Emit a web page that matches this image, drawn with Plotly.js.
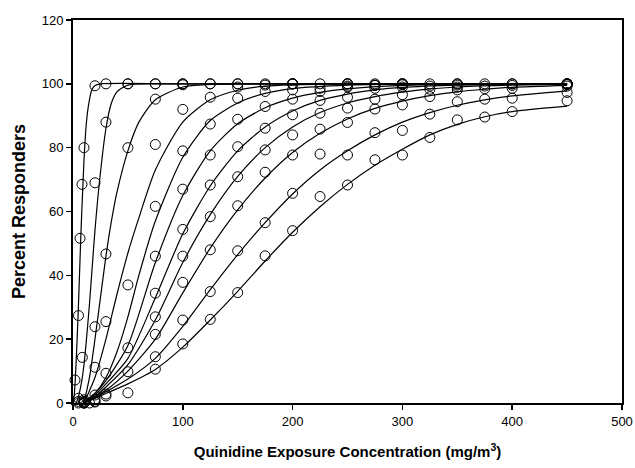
<!DOCTYPE html>
<html>
<head>
<meta charset="utf-8">
<script src="https://cdn.plot.ly/plotly-3.0.1.min.js"></script>
<style>html,body{margin:0;padding:0;background:#fff;}#chart{width:635px;height:468px;}</style>
</head>
<body>
<div id="chart"></div>
<script>
// ---- fitted curves ----
var curve1X = [0, 1, 2, 3, 4, 5, 6, 7, 8, 9, 10, 12, 14, 17, 20, 25, 100, 450];
var curve1Y = [0, 2, 7, 14, 22, 31, 41, 51, 60, 68, 76, 87, 93, 98, 99.5, 100, 100, 100];
var curve2X = [3, 5, 8, 10, 12, 15, 18, 20, 24, 30, 35, 40, 50, 75, 450];
var curve2Y = [0, 2, 7, 12, 19, 31, 45, 54, 69, 86, 94, 97.5, 99.6, 100, 100];
var curve3X = [10, 15, 20, 25, 30, 35, 40, 50, 60, 75, 100, 125, 150, 450];
var curve3Y = [0, 8, 20, 33, 46, 57, 66, 79, 88, 95, 99, 99.8, 100, 100];
var curve4X = [10, 20, 30, 40, 50, 60, 75, 100, 125, 150, 175, 200, 250, 450];
var curve4Y = [0, 8, 20, 34, 47, 58, 73, 88, 95, 98, 99.3, 99.7, 100, 100];
var curve5X = [10, 20, 30, 40, 50, 60, 75, 100, 125, 150, 175, 200, 250, 300, 450];
var curve5Y = [0, 3, 8, 16, 27, 40, 57, 77, 88.5, 94, 97, 98.5, 99.6, 99.9, 100];
var curve6X = [10, 20, 30, 50, 75, 100, 125, 150, 175, 200, 225, 250, 300, 350, 450];
var curve6Y = [0, 3, 7, 18, 44, 65, 79, 87.5, 92.5, 95.5, 97.3, 98.4, 99.5, 99.9, 100];
var curve7X = [10, 20, 30, 50, 75, 100, 125, 150, 175, 200, 225, 250, 275, 300, 350, 400, 450];
var curve7Y = [0, 2.5, 6, 14, 33, 53, 68, 79, 86.5, 91.5, 94.8, 96.8, 98.1, 98.9, 99.6, 99.9, 100];
var curve8X = [10, 20, 30, 50, 75, 100, 125, 150, 175, 200, 225, 250, 275, 300, 325, 350, 400, 450];
var curve8Y = [0, 2, 5, 12, 26, 44, 59, 71, 80, 86.5, 91, 94, 96, 97.4, 98.4, 99, 99.6, 99.8];
var curve9X = [10, 20, 30, 50, 75, 100, 125, 150, 175, 200, 225, 250, 275, 300, 325, 350, 375, 400, 450];
var curve9Y = [0, 2, 4, 10, 20, 34.5, 48.5, 60.5, 70.5, 78.5, 84.5, 89, 92.3, 94.6, 96.3, 97.5, 98.3, 98.9, 99.5];
var curve10X = [10, 20, 30, 50, 75, 100, 125, 150, 175, 200, 225, 250, 275, 300, 325, 350, 375, 400, 450];
var curve10Y = [0, 1.5, 3.5, 7.5, 14, 24, 35.5, 46.5, 56.5, 65.5, 73, 79, 84, 88, 91, 93.3, 95, 96.2, 97.8];
var curve11X = [10, 20, 30, 50, 75, 100, 125, 150, 175, 200, 225, 250, 275, 300, 325, 350, 375, 400, 450];
var curve11Y = [0, 1.5, 3, 6, 10.5, 17.5, 26, 35, 44.5, 53.5, 61.5, 68.5, 74.5, 79.5, 84, 87.3, 89.7, 91.3, 93];

// ---- observed responders (open circles) ----
var obs1X = [1.8, 5, 6.4, 8.2, 10, 20, 30, 50, 75, 100, 125, 150, 175, 200, 225, 250, 275, 300, 325, 350, 375, 400, 450];
var obs1Y = [7.2, 27.4, 51.6, 68.5, 80, 99.4, 100, 100, 100, 100, 100, 100, 100, 100, 100, 100, 100, 100, 100, 100, 100, 100, 100];
var obs2X = [5, 8.5, 20, 30, 50, 75, 100, 150, 200, 250, 300, 350, 400, 450];
var obs2Y = [1.5, 14.3, 69, 88, 100, 100, 100, 100, 100, 100, 100, 100, 100, 100];
var obs3X = [5, 10, 20, 30, 50, 75, 100, 125, 200, 300, 450];
var obs3Y = [0.5, 1, 23.9, 46.7, 80, 95.2, 99.7, 100, 100, 100, 100];
var obs4X = [5, 10, 20, 30, 50, 75, 100, 125, 150, 175, 200, 250, 450];
var obs4Y = [0, 0.5, 11.2, 25.5, 37, 81, 92, 95.8, 99, 99.6, 100, 100, 100];
var obs5X = [10, 20, 30, 50, 75, 100, 125, 150, 175, 200, 225, 250, 275, 450];
var obs5Y = [0.3, 2.5, 9.3, 17.3, 61.6, 79, 87.4, 95.5, 97.6, 98.1, 98.6, 99.3, 99.6, 100];
var obs6X = [10, 20, 30, 50, 75, 100, 125, 150, 175, 200, 225, 250, 275, 300, 450];
var obs6Y = [0, 1.2, 2.8, 9.8, 46, 67, 77.7, 88.9, 92.9, 95.2, 97.6, 99, 99.5, 99.7, 100];
var obs7X = [10, 20, 30, 50, 75, 100, 125, 150, 175, 200, 225, 250, 275, 300, 325, 350, 450];
var obs7Y = [0, 0.5, 2.2, 3.2, 34.4, 54.4, 68.3, 80.3, 86.1, 90.3, 94.8, 95.8, 98.6, 99, 99.3, 99.6, 99.8];
var obs8X = [10, 20, 75, 100, 125, 150, 175, 200, 225, 250, 275, 300, 325, 350, 375, 400, 450];
var obs8Y = [0, 0.3, 27, 46, 58.4, 70.9, 79.3, 84, 90.8, 92.4, 95.2, 96.6, 98.3, 99, 99.3, 99.5, 99.8];
var obs9X = [15, 75, 100, 125, 150, 175, 200, 225, 250, 275, 300, 325, 350, 375, 400, 450];
var obs9Y = [0, 21.5, 37.8, 48, 61.8, 72.3, 77.7, 85.8, 87.9, 92.1, 93.4, 96, 98.1, 98.5, 98.6, 99.3];
var obs10X = [75, 100, 125, 150, 175, 200, 225, 250, 275, 300, 325, 350, 375, 400, 450];
var obs10Y = [14.5, 26, 34.9, 47.7, 56.5, 65.7, 78, 77.7, 84.7, 85.4, 90.5, 94.4, 95.2, 95.5, 97.3];
var obs11X = [75, 100, 125, 150, 175, 200, 225, 250, 275, 300, 325, 350, 375, 400, 450];
var obs11Y = [10.6, 18.5, 26.2, 34.6, 46.1, 54, 64.7, 68.3, 76.2, 77.7, 83.2, 88.7, 89.6, 91.3, 94.7];

var xTicks = [0, 100, 200, 300, 400, 500];
var yTicks = [0, 20, 40, 60, 80, 100, 120];

var curves = [[curve1X, curve1Y],[curve2X, curve2Y],[curve3X, curve3Y],[curve4X, curve4Y],[curve5X, curve5Y],[curve6X, curve6Y],[curve7X, curve7Y],[curve8X, curve8Y],[curve9X, curve9Y],[curve10X, curve10Y],[curve11X, curve11Y]];
var obs = [[obs1X, obs1Y],[obs2X, obs2Y],[obs3X, obs3Y],[obs4X, obs4Y],[obs5X, obs5Y],[obs6X, obs6Y],[obs7X, obs7Y],[obs8X, obs8Y],[obs9X, obs9Y],[obs10X, obs10Y],[obs11X, obs11Y]];

var traces = [];
curves.forEach(function(c){
  traces.push({x: c[0], y: c[1], type: 'scatter', mode: 'lines', cliponaxis: false,
    line: {color: '#000', width: 1.2, shape: 'spline', smoothing: 0.7}, hoverinfo: 'skip'});
});
obs.forEach(function(o){
  traces.push({x: o[0], y: o[1], type: 'scatter', mode: 'markers', cliponaxis: false,
    marker: {symbol: 'circle-open', size: 10, color: '#000', line: {color: '#000', width: 1}}});
});

var tickFont = {family: 'Liberation Sans, Arial, sans-serif', size: 13, color: '#000'};

var layout = {
  width: 635, height: 468,
  margin: {l: 73, r: 13, t: 20, b: 65},
  paper_bgcolor: '#fff', plot_bgcolor: '#fff',
  showlegend: false,
  xaxis: {range: [0, 500], tickvals: xTicks, ticktext: xTicks.map(String), ticks: 'outside', ticklen: 5, tickwidth: 1.5,
    tickcolor: '#000', showline: true, linecolor: '#000', linewidth: 2, mirror: true, showgrid: false, zeroline: false,
    tickfont: tickFont,
    title: {text: '<b>Quinidine Exposure Concentration (mg/m<sup>3</sup>)</b>', font: {family: 'Liberation Sans, Arial, sans-serif', size: 15, color: '#000'}, standoff: 19}},
  yaxis: {range: [0, 120], tickvals: yTicks, ticktext: yTicks.map(String), ticks: 'outside', ticklen: 5, tickwidth: 1.5,
    tickcolor: '#000', showline: true, linecolor: '#000', linewidth: 2, mirror: true, showgrid: false, zeroline: false,
    tickfont: tickFont,
    title: {text: '<b>Percent Responders</b>', font: {family: 'Liberation Sans, Arial, sans-serif', size: 18, color: '#000'}, standoff: 11}}
};

Plotly.newPlot('chart', traces, layout, {staticPlot: true, displayModeBar: false});
</script>
</body>
</html>
